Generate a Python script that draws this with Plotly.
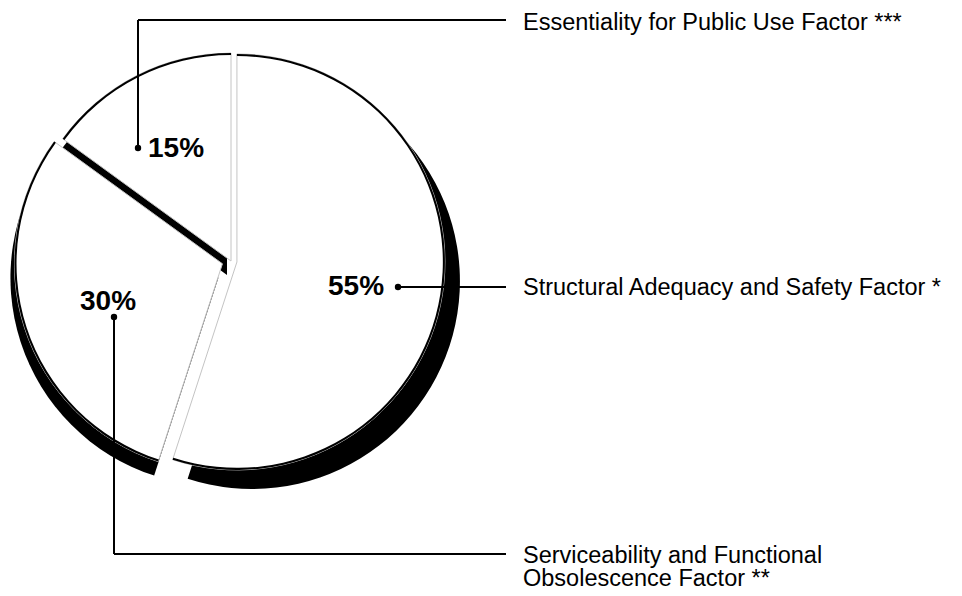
import plotly.graph_objects as go

# ---- data ----
categories = [
    "Essentiality for Public Use Factor ***",
    "Serviceability and Functional Obsolescence Factor **",
    "Structural Adequacy and Safety Factor *",
]
shares = [15, 30, 55]
pct_labels = ["15%", "30%", "55%"]
legend_lines = [
    ["Essentiality for Public Use Factor ***"],
    ["Serviceability and Functional", "Obsolescence Factor **"],
    ["Structural Adequacy and Safety Factor *"],
]

# ---- layout helpers (page pixel -> paper); the page body has an 8px margin ----
OFF = 8
W, H = 962 - OFF, 596 - OFF


def fx(p):
    return (p - OFF) / W


def fy(p):
    return 1 - (p - OFF) / H


def clamp(v):
    return min(1.0, max(0.0, v))


R = 208            # pie radius in px
CX, CY = 231, 261  # pie centre in page px
PULL_PX = [6, 9, 0]   # explode (px) of the 55%, 30%, 15% slices
MAXP = max(PULL_PX)


def dom(cx, cy):
    half = R + MAXP
    return dict(x=[clamp(fx(cx - half)), clamp(fx(cx + half))],
                y=[clamp(fy(cy + half)), clamp(fy(cy - half))])


# slices run clockwise from 12 o'clock: 55%, 30%, 15%
vals = shares[::-1]
labs = categories[::-1]
pulls = [p / R for p in PULL_PX]

common = dict(
    values=vals,
    labels=labs,
    sort=False,
    direction="clockwise",
    rotation=0,
    textinfo="none",
    hoverinfo="skip",
    showlegend=False,
    pull=pulls,
)
CLEAR = "rgba(0,0,0,0)"

fig = go.Figure()
# black side wall of the 55% slice (seen to the right and below)
fig.add_trace(go.Pie(
    **common,
    marker=dict(colors=["black", CLEAR, CLEAR], line=dict(width=0)),
    domain=dom(CX + 15, CY + 19),
))
# black side walls of the 30% and 15% slices (seen below / in the gap)
fig.add_trace(go.Pie(
    **common,
    marker=dict(colors=[CLEAR, "black", "black"], line=dict(width=0)),
    domain=dom(CX - 4, CY + 14),
))
# white faces with faint radial edges
fig.add_trace(go.Pie(
    **common,
    marker=dict(colors=["white"] * 3, line=dict(color="#c4c4c4", width=1)),
    domain=dom(CX, CY),
))
# black outer rims
fig.add_trace(go.Pie(
    **common,
    hole=0.99,
    marker=dict(colors=["black"] * 3, line=dict(width=0)),
    domain=dom(CX, CY),
))

annotations = []
shapes = []

# percentage labels (left x, centre y in page px)
pct_pos = [(146, 147), (78, 301), (326, 285)]
for txt, (px_, py_) in zip(pct_labels, pct_pos):
    annotations.append(dict(
        x=fx(px_), y=fy(py_), xref="paper", yref="paper",
        text="<b>%s</b>" % txt, showarrow=False,
        xanchor="left", yanchor="middle",
        font=dict(family="Liberation Sans, Arial, sans-serif", size=28, color="black"),
    ))

# category labels on the right
label_y = [[22], [554.5, 578], [287]]
for lines, ys in zip(legend_lines, label_y):
    for line, yy in zip(lines, ys):
        annotations.append(dict(
            x=fx(521), y=fy(yy), xref="paper", yref="paper",
            text=line, showarrow=False,
            xanchor="left", yanchor="middle",
            font=dict(family="Liberation Sans, Arial, sans-serif", size=23.5, color="black"),
        ))

# leader lines
leaders = [
    [(138, 148), (138, 20), (506, 20)],
    [(114, 317), (114, 554), (506, 554)],
    [(398, 287), (506, 287)],
]
for pts in leaders:
    for (x0, y0), (x1, y1) in zip(pts[:-1], pts[1:]):
        shapes.append(dict(type="line", xref="paper", yref="paper",
                           x0=fx(x0), y0=fy(y0), x1=fx(x1), y1=fy(y1),
                           line=dict(color="black", width=2)))
    dx, dy = pts[0]
    shapes.append(dict(type="circle", xref="paper", yref="paper",
                       x0=fx(dx - 3.2), x1=fx(dx + 3.2), y0=fy(dy + 3.2), y1=fy(dy - 3.2),
                       fillcolor="black", line=dict(color="black", width=0)))

fig.update_layout(
    width=W, height=H,
    margin=dict(l=0, r=0, t=0, b=0),
    paper_bgcolor="white", plot_bgcolor="white",
    showlegend=False,
    annotations=annotations,
    shapes=shapes,
)

fig.write_html("out.html")
